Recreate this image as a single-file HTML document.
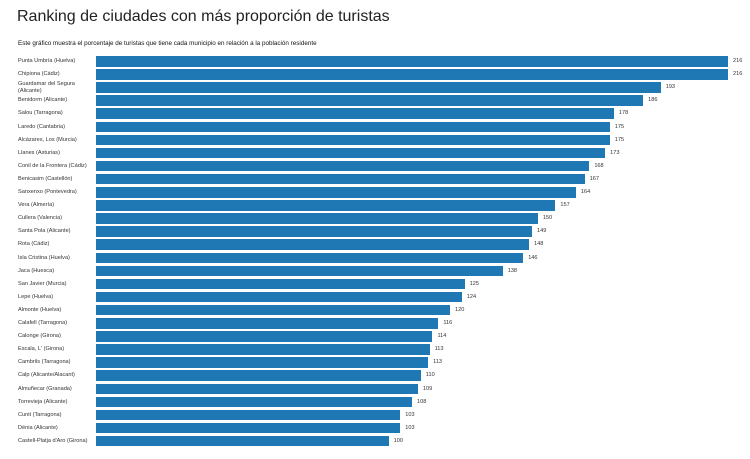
<!DOCTYPE html><html><head><meta charset="utf-8"><style>
body{margin:0;width:750px;height:459px;background:#fff;font-family:"Liberation Sans",sans-serif;position:relative;overflow:hidden}
.t{position:absolute;left:17px;top:8px;font-size:16px;color:#222}
.s{position:absolute;left:18px;top:40px;font-size:6.3px;color:#111}
.r{position:absolute;left:0;height:11px;width:750px}
.l{position:absolute;left:18px;font-size:5.6px;color:#333;line-height:7px;width:85px}
.b{position:absolute;left:96px;top:0;height:10.5px;background:#1f77b4}
.v{position:absolute;font-size:5.6px;color:#333;top:2px}
</style></head><body>
<div class="t">Ranking de ciudades con más proporción de turistas</div>
<div class="s">Este gráfico muestra el porcentaje de turistas que tiene cada municipio en relación a la población residente</div>
<div id="c"></div>
<script>
var d=[["Punta Umbría (Huelva)",216,216],["Chipiona (Cádiz)",216,216],["Guardamar del Segura (Alicante)",193,193],["Benidorm (Alicante)",187,186],["Salou (Tarragona)",177,178],["Laredo (Cantabria)",175.6,175],["Alcázares, Los (Murcia)",175.6,175],["Llanes (Asturias)",174,173],["Conil de la Frontera (Cádiz)",168.6,168],["Benicasim (Castellón)",167,167],["Sanxenxo (Pontevedra)",164,164],["Vera (Almería)",157,157],["Cullera (Valencia)",151,150],["Santa Pola (Alicante)",149,149],["Rota (Cádiz)",148,148],["Isla Cristina (Huelva)",146,146],["Jaca (Huesca)",139,138],["San Javier (Murcia)",126,125],["Lepe (Huelva)",125,124],["Almonte (Huelva)",121,120],["Calafell (Tarragona)",117,116],["Calonge (Girona)",115,114],["Escala, L' (Girona)",114,113],["Cambrils (Tarragona)",113.5,113],["Calp (Alicante/Alacant)",111,110],["Almuñecar (Granada)",110,109],["Torrevieja (Alicante)",108,108],["Cunit (Tarragona)",104,103],["Dénia (Alicante)",104,103],["Castell-Platja d'Aro (Girona)",100,100]];
var h="";d.forEach(function(e,i){var y=56+i*13.1,w=e[1]*2.926;
var lt=i==2?-1:2;
h+='<div class="r" style="top:'+y+'px"><div class="l" style="top:'+lt+'px;'+(i==2?'width:70px':'white-space:nowrap')+'">'+e[0]+'</div><div class="b" style="width:'+w+'px"></div><div class="v" style="left:'+(96+w+5)+'px">'+e[2]+'</div></div>';});
document.getElementById("c").innerHTML=h;
</script>
</body></html>
